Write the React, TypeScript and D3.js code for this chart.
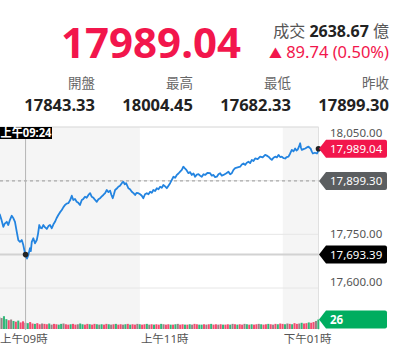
import React from 'react';
import * as d3 from 'd3';

const W = 402;
const H = 351;

// price series: minutes after 09:00 and index value
const priceMinutes = [0, 1.2, 2.5, 3.8, 5.3, 6.5, 8.2, 9.5, 10.8, 12.4, 13.6, 15.1, 16.6, 17.9, 19.3, 20.8, 22.1, 23.5, 24, 25.2, 26.3, 27.7, 28.4, 29.2, 30.5, 31.9, 33.4, 34.5, 35.5, 36.5, 37.6, 38.9, 40.2, 41.8, 43.2, 44.5, 46, 47.4, 48.7, 50, 51.5, 53, 54.4, 55.8, 57.1, 58.5, 59.9, 61.4, 62.8, 64.1, 65.5, 66.9, 68.3, 69.7, 71.2, 72.5, 73.9, 75.3, 76.8, 78.2, 79.6, 81, 82.4, 83.8, 85.2, 86.6, 88, 89.3, 90.8, 92.2, 93.6, 95, 96.1, 97.2, 98.2, 99.2, 100.6, 101.9, 103.3, 104.8, 106.1, 107.3, 108.4, 110.3, 111.7, 113.2, 114.6, 116, 117.3, 118.7, 120.2, 121.6, 122.9, 124.3, 125.8, 127.2, 128.6, 130, 131.3, 132.8, 134.2, 135.6, 137, 138.4, 139.7, 141.2, 142.6, 144, 145.4, 146.8, 148.2, 149.6, 151, 152.4, 153.8, 155.2, 156.5, 157.6, 158.8, 160.8, 162.2, 163.6, 165, 166.4, 167.8, 169.2, 170.6, 172, 173.4, 174.8, 176.9, 179, 180.4, 181.8, 183.2, 184.6, 186, 187.4, 188.8, 190.2, 192.3, 194.4, 195.8, 197.2, 198.6, 200, 202.1, 204.2, 205.6, 207, 208.4, 209.8, 211.2, 212.6, 214, 215.4, 216.8, 218.9, 221, 223.1, 225.2, 226.6, 228, 229.4, 230.8, 232.2, 233.6, 235, 236.4, 237.8, 239.2, 240.6, 242, 243.4, 244.8, 246.2, 247.6, 249, 250.4, 251.5, 252.5, 253.6, 254.6, 255.3, 256, 257.4, 258.8, 260.2, 261.6, 262.5, 263.3, 264.3, 265.3, 267, 268.7, 269.4, 270];
const priceValues = [17843.33, 17812, 17804, 17790, 17771, 17780, 17785, 17776, 17790, 17802, 17796, 17785, 17757, 17734, 17729, 17734, 17720, 17697, 17693.39, 17682.33, 17692, 17711, 17703, 17729, 17739, 17725, 17734, 17752, 17776, 17768, 17767, 17776, 17770, 17765, 17773, 17776, 17767, 17778, 17785, 17795, 17804, 17812, 17818, 17826, 17832, 17836, 17837, 17845, 17858, 17846, 17849, 17841, 17838, 17832, 17846, 17849, 17855, 17852, 17860, 17865, 17855, 17852, 17846, 17841, 17848, 17851, 17856, 17860, 17865, 17874, 17868, 17872, 17860, 17851, 17862, 17874, 17878, 17883, 17886, 17893, 17897, 17890, 17893, 17879, 17876, 17869, 17865, 17860, 17866, 17865, 17862, 17858, 17851, 17862, 17865, 17862, 17869, 17866, 17874, 17871, 17879, 17876, 17883, 17880, 17888, 17884, 17879, 17886, 17893, 17902, 17911, 17908, 17916, 17920, 17925, 17930, 17939, 17935, 17931, 17921, 17924, 17916, 17920, 17911, 17917, 17918, 17914, 17911, 17918, 17916, 17922, 17921, 17914, 17916, 17910, 17911, 17918, 17921, 17914, 17916, 17920, 17925, 17918, 17921, 17930, 17935, 17937, 17939, 17945, 17948, 17944, 17950, 17953, 17949, 17958, 17955, 17962, 17960, 17967, 17965, 17972, 17970, 17967, 17962, 17958, 17964, 17967, 17965, 17972, 17966, 17967, 17963, 17962, 17966, 17967, 17976, 17986, 17982, 17990, 17984, 17987, 17995, 18004.45, 17992, 17986, 17988, 17990, 17993, 17995, 17992, 17990, 17982, 17976, 17978, 17976, 17980, 17989.04];

// volume per 2-minute bar
const volumeValues = [36, 33, 30, 35, 27, 24, 26, 22, 20, 23,
  18, 21, 17, 16, 19, 15, 14, 16, 13, 15,
  14, 13, 15, 12, 14, 13, 12, 14, 15, 13, 12, 13, 14, 12, 13, 15, 13, 12, 14, 13,
  12, 14, 13, 12, 13, 12, 14, 13, 12, 13, 14, 12, 13, 12, 13, 14, 12, 13, 12, 14,
  13, 12, 13, 14, 12, 13, 12, 13, 12, 14, 13, 12, 13, 12, 12, 13, 14, 12, 13, 12,
  12, 13, 12, 14, 13, 12, 12, 13, 12, 13, 14, 12, 13, 12, 13, 12, 12, 13, 12, 14,
  13, 12, 13, 12, 14, 13, 12, 13, 12, 13, 14, 13, 12, 13, 14, 13, 12, 14, 13, 15,
  14, 13, 15, 14, 13, 16, 14, 15, 17, 15, 16, 18, 17, 19, 22, 26];
const volumeDirection = ("rgnggrngrg" + "rrngrrgrrn" + "rrgnrrggnr" + "rgrrnggrrg" + "rrgngrrgnr" + "grrngrgrrn" +
  "grrgnrgrrg" + "nrrgrgnrrg" + "rgnrrggrnr" + "grrnrgrrgn" + "rgrrngrgrr" + "ngrrgrnrgr" + "rgnrgrrngr" + "rgrrng").split("");

const prevClose = 17899.3;
const lastPrice = 17989.04;
const crossMinute = 24;
const crossValue = 17693.39;
const lastVolume = 26;

const yTicks = [18050, 17900, 17750, 17600];
const xTickMinutes = [0, 120, 240];
const xTickLabels = ["上午09時", "上午11時", "下午01時"];
const bandRanges = [[0, 120], [240, 270]];

const headerStats = [
  { label: "開盤", value: "17843.33" },
  { label: "最高", value: "18004.45" },
  { label: "最低", value: "17682.33" },
  { label: "昨收", value: "17899.30" },
];

const RED = "#f2164c";
const GREEN = "#00ad5f";
const BLUE = "#2384e0";
const FONT = "'Noto Sans', 'Noto Sans CJK TC', sans-serif";

function badge(cy: number) {
  const t = 319, l = 326, r = 387, h = 9;
  return `M${t},${cy} L${l},${cy - h} H${r - 2} Q${r},${cy - h} ${r},${cy - h + 2} V${cy + h - 2} Q${r},${cy + h} ${r - 2},${cy + h} H${l} Z`;
}

export default function App() {
  const x = d3.scaleLinear().domain([0, 270]).range([-3, 318.5]);
  const y = d3.scaleLinear().domain([17600, 18050]).range([288, 127]);
  const vy = d3.scaleLinear().domain([0, 26]).range([329, 319.5]);
  const fmt = d3.format(",.2f");

  const pts = priceMinutes.map((m, i) => [m, priceValues[i]] as [number, number]);
  const line = d3.line<[number, number]>().x(d => x(d[0])).y(d => y(d[1]));

  const plotRight = 318.5;
  const top = 127;
  const bottom = 329;
  const bw = x(2) - x(0);
  const cx = x(crossMinute);

  return (
    <svg width={W} height={H} style={{ position: 'absolute', left: 0, top: 0, fontFamily: FONT }}>
      <rect x={0} y={0} width={W} height={H} fill="#fff" />
      {/* header */}
      <text x={241} y={58} textAnchor="end" fontSize={42} fontWeight={700} fill={RED}>17989.04</text>
      <text x={389} y={37} textAnchor="end" fontSize={16}>
        <tspan fill="#555" fontSize={16}>成交 </tspan>
        <tspan fill="#222" fontWeight={700}>2638.67</tspan>
        <tspan fill="#555" fontSize={16}> 億</tspan>
      </text>
      <text x={389} y={58} textAnchor="end" fontSize={16.5} fill={RED}>
        <tspan fontSize={13}>▲</tspan>
        <tspan> 89.74 (0.50%)</tspan>
      </text>
      {headerStats.map((s, i) => (
        <g key={s.label}>
          <text x={95 + i * 98} y={88} textAnchor="end" fontSize={13.5} fill="#666">{s.label}</text>
          <text x={95 + i * 98} y={111} textAnchor="end" fontSize={16.5} fontWeight={700} fill="#222">{s.value}</text>
        </g>
      ))}

      {/* bands */}
      {bandRanges.map((b, i) => (
        <rect key={i} x={Math.max(0, x(b[0]))} y={top} width={x(b[1]) - Math.max(0, x(b[0]))} height={bottom - top} fill="#f5f5f5" />
      ))}
      {/* grid */}
      {yTicks.map(t => (
        <line key={t} x1={0} x2={plotRight} y1={y(t)} y2={y(t)} stroke="#e6e6e6" strokeWidth={1} />
      ))}
      <line x1={0} x2={plotRight} y1={top} y2={top} stroke="#e0e0e0" />
      <line x1={plotRight} x2={plotRight} y1={top} y2={bottom + 1} stroke="#e0e0e0" />
      <line x1={0} x2={plotRight} y1={y(prevClose)} y2={y(prevClose)} stroke="#999" strokeDasharray="3,3" />

      {/* volume */}
      {volumeValues.map((v, i) => {
        const d = volumeDirection[i];
        const c = d === 'r' ? "#f23a62" : d === 'g' ? "#1cb06a" : "#8f7478";
        const xx = x(i * 2) - bw / 2;
        return <rect key={i} x={xx} y={vy(v)} width={bw * 0.85} height={vy(0) - vy(v)} fill={c} opacity={0.9} />;
      })}

      {/* crosshair */}
      <line x1={0} x2={plotRight} y1={y(crossValue)} y2={y(crossValue)} stroke="#d2d2d2" strokeWidth={2} />
      <line x1={cx} x2={cx} y1={top} y2={bottom + 1} stroke="#b5b5b5" strokeWidth={1} />

      {/* price line */}
      <path d={line(pts) || ""} fill="none" stroke={BLUE} strokeWidth={1.8} strokeLinejoin="round" />
      <circle cx={cx} cy={y(crossValue)} r={2.8} fill="#222" />
      <circle cx={x(270)} cy={y(lastPrice)} r={2.8} fill="#222" />

      {/* y-axis labels */}
      {yTicks.map(t => {
        const cy = Math.min(282, Math.max(133, y(t)));
        return <text key={t} x={330} y={cy} dy="0.35em" fontSize={11.5} fill="#555">{fmt(t)}</text>;
      })}

      {/* x-axis labels */}
      {xTickMinutes.map((m, i) => (
        <text key={m} x={Math.max(0, x(m) + 1)} y={339} dy="0.35em" fontSize={11.5} fill="#555">{xTickLabels[i]}</text>
      ))}

      {/* badges */}
      <path d={badge(y(lastPrice))} fill={RED} />
      <text x={330} y={y(lastPrice)} dy="0.35em" fontSize={11.5} fill="#fff">{fmt(lastPrice)}</text>
      <path d={badge(y(prevClose))} fill="#5b5e60" />
      <text x={330} y={y(prevClose)} dy="0.35em" fontSize={11.5} fill="#fff">{fmt(prevClose)}</text>
      <path d={badge(y(crossValue))} fill="#000" />
      <text x={330} y={y(crossValue)} dy="0.35em" fontSize={11.5} fill="#fff">{fmt(crossValue)}</text>
      <path d={badge(vy(lastVolume))} fill={GREEN} />
      <text x={330} y={vy(lastVolume)} dy="0.35em" fontSize={11.5} fontWeight={700} fill="#fff">{lastVolume}</text>

      {/* crosshair time label */}
      <rect x={0} y={127} width={52} height={12} fill="#000" />
      <text x={0.5} y={133} dy="0.35em" fontSize={12} fontWeight={700} fill="#fff" textLength={51} lengthAdjust="spacingAndGlyphs">上午09:24</text>
    </svg>
  );
}
